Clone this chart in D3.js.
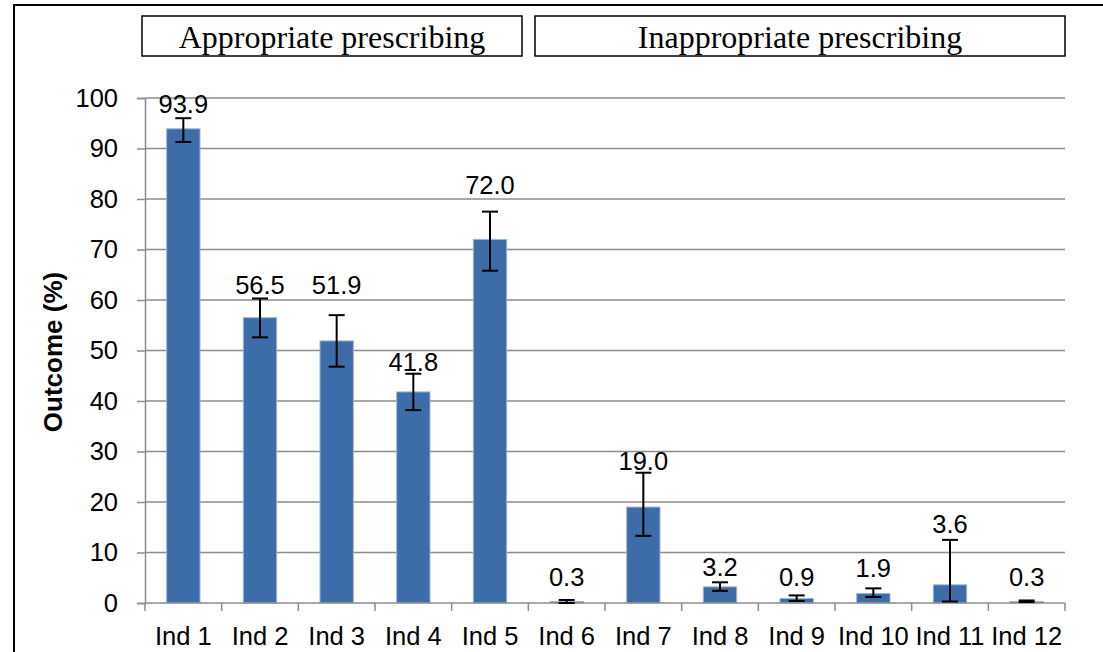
<!DOCTYPE html>
<html>
<head>
<meta charset="utf-8">
<script src="https://cdn.jsdelivr.net/npm/d3@7"></script>
<style>
  html, body { margin: 0; padding: 0; background: #fff; }
  svg { display: block; }
</style>
</head>
<body>
<svg id="chart" width="1103" height="652"></svg>
<script>
// ---- data ----
const categories = ["Ind 1","Ind 2","Ind 3","Ind 4","Ind 5","Ind 6","Ind 7","Ind 8","Ind 9","Ind 10","Ind 11","Ind 12"];
const values     = [93.9, 56.5, 51.9, 41.8, 72.0, 0.3, 19.0, 3.2, 0.9, 1.9, 3.6, 0.3];
const errLow     = [91.3, 52.6, 46.8, 38.2, 65.8, 0.0, 13.3, 2.4, 0.4, 1.2, 0.3, 0.2];
const errHigh    = [96.0, 60.3, 57.0, 45.4, 77.5, 0.6, 25.8, 4.1, 1.5, 2.9, 12.5, 0.5];
const labelAt    = [98.8, 63.0, 63.0, 47.7, 82.8, 5.1, 28.1, 7.1, 5.1, 6.9, 15.6, 5.1];
const yTicks     = [0, 10, 20, 30, 40, 50, 60, 70, 80, 90, 100];
const groups     = [
  {name: "Appropriate prescribing", from: 0, to: 4},
  {name: "Inappropriate prescribing", from: 5, to: 11}
];
const yTitle = "Outcome (%)";

// ---- layout ----
const svg = d3.select("#chart");
const pLeft = 145, pRight = 1065, pTop = 98, pBottom = 603;

const x = d3.scaleBand().domain(categories).range([pLeft, pRight]).paddingInner(0.565).paddingOuter(0.2825);
const xb = d3.scaleBand().domain(categories).range([pLeft, pRight]);
const y = d3.scaleLinear().domain([0, 100]).range([pBottom, pTop]);

const sans = "Liberation Sans, Arial, sans-serif";
const fs = 25.5;

// outer frame
svg.append("rect").attr("x", 14).attr("y", 5).attr("width", 1200).attr("height", 800)
  .attr("fill", "none").attr("stroke", "#000").attr("stroke-width", 2);

// header boxes
const boxes = [{x0: 142, x1: 522}, {x0: 535, x1: 1065}];
groups.forEach((g, i) => {
  const b = boxes[i];
  svg.append("rect").attr("x", b.x0).attr("y", 16).attr("width", b.x1 - b.x0).attr("height", 40)
    .attr("fill", "#fff").attr("stroke", "#000").attr("stroke-width", 1.5);
  svg.append("text").attr("x", (b.x0 + b.x1) / 2).attr("y", 37)
    .attr("text-anchor", "middle").attr("dominant-baseline", "central")
    .attr("font-family", "Liberation Serif, 'Times New Roman', serif").attr("font-size", 32)
    .attr("fill", "#000").text(g.name);
});

// gridlines
svg.append("g").selectAll("line").data(yTicks.filter(d => d > 0)).join("line")
  .attr("x1", pLeft).attr("x2", pRight).attr("y1", d => y(d)).attr("y2", d => y(d))
  .attr("stroke", "#8c8c8c").attr("stroke-width", 1.5);

// y axis
const yAxis = svg.append("g").attr("transform", `translate(${pLeft},0)`)
  .call(d3.axisLeft(y).tickValues(yTicks).tickSize(8).tickPadding(19));
yAxis.select(".domain").attr("stroke", "#8c8c8c").attr("stroke-width", 1.5);
yAxis.selectAll(".tick line").attr("stroke", "#8c8c8c").attr("stroke-width", 1.5);
yAxis.selectAll(".tick text").attr("font-family", sans).attr("font-size", fs).attr("fill", "#000");

// bars
svg.append("g").selectAll("rect").data(categories).join("rect")
  .attr("x", d => x(d)).attr("width", x.bandwidth())
  .attr("y", (d, i) => y(values[i])).attr("height", (d, i) => y(0) - y(values[i]))
  .attr("fill", "#3d6da8").attr("stroke", "#9db6d6").attr("stroke-width", 1);

// x axis
const xAxisG = svg.append("g").attr("transform", `translate(0,${pBottom})`);
xAxisG.append("line").attr("x1", pLeft).attr("x2", pRight).attr("stroke", "#8c8c8c").attr("stroke-width", 1.5);
const bounds = categories.map(c => xb(c)).concat([pRight]);
xAxisG.selectAll("line.tk").data(bounds).join("line").attr("class", "tk")
  .attr("x1", d => d).attr("x2", d => d).attr("y1", 0).attr("y2", 8)
  .attr("stroke", "#8c8c8c").attr("stroke-width", 1.5);
xAxisG.selectAll("text").data(categories).join("text")
  .attr("x", d => xb(d) + xb.bandwidth() / 2).attr("y", 33)
  .attr("text-anchor", "middle").attr("dominant-baseline", "central")
  .attr("font-family", sans).attr("font-size", fs).attr("fill", "#000").text(d => d);

// error bars
const eb = svg.append("g").attr("stroke", "#000").attr("stroke-width", 2);
categories.forEach((c, i) => {
  const cx = x(c) + x.bandwidth() / 2;
  eb.append("line").attr("x1", cx).attr("x2", cx).attr("y1", y(errLow[i])).attr("y2", y(errHigh[i]));
  eb.append("line").attr("x1", cx - 8).attr("x2", cx + 8).attr("y1", y(errLow[i])).attr("y2", y(errLow[i]));
  eb.append("line").attr("x1", cx - 8).attr("x2", cx + 8).attr("y1", y(errHigh[i])).attr("y2", y(errHigh[i]));
});

// data labels
svg.append("g").selectAll("text").data(categories).join("text")
  .attr("x", d => x(d) + x.bandwidth() / 2).attr("y", (d, i) => y(labelAt[i]))
  .attr("text-anchor", "middle").attr("dominant-baseline", "central")
  .attr("font-family", sans).attr("font-size", fs).attr("fill", "#000")
  .text((d, i) => values[i].toFixed(1));

// y title
svg.append("text").attr("transform", `translate(53,352) rotate(-90)`)
  .attr("text-anchor", "middle").attr("dominant-baseline", "central")
  .attr("font-family", sans).attr("font-weight", "bold").attr("font-size", 26).attr("fill", "#000")
  .text(yTitle);
</script>
</body>
</html>
